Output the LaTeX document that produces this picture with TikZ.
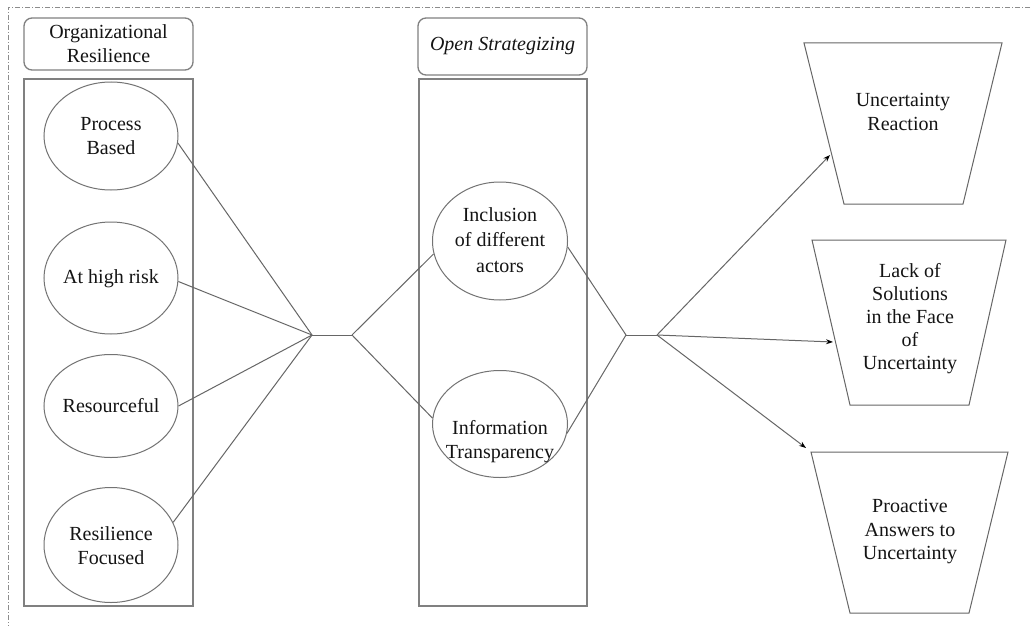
\documentclass[tikz,border=0pt]{standalone}
\usepackage{fontspec}
\setmainfont{Liberation Serif}
\usetikzlibrary{arrows.meta,shapes.geometric}
\begin{document}
\begin{tikzpicture}[x=1pt,y=-1pt,
  outer/.style={draw=black!45, line width=0.8pt, dash pattern=on 5pt off 2pt on 1pt off 2pt},
  frame/.style={draw=black!50, line width=1.3pt, inner sep=0pt},
  hdr/.style={frame, rounded corners=8pt},
  ell/.style={draw=black!55, line width=1pt, ellipse, inner sep=0pt},
  link/.style={draw=black!60, line width=1pt},
  arr/.style={link, -{Stealth[length=7pt,width=5pt,black]}},
  trap/.style={draw=black!60, line width=1pt},
  txt/.style={font=\fontsize{20}{24}\selectfont, align=center, text=black!92, inner sep=0pt},
]
\useasboundingbox (0,0) rectangle (1033,626);
\fill[white] (0,0) rectangle (1033,626);
% outer dash-dot frame (top and left only)
\draw[outer] (1030,7) -- (8,7) -- (8,626);

% left column
\node[hdr, txt, minimum width=169pt, minimum height=52pt] (lh) at (108.5,44) {Organizational\\Resilience};
\node[frame, minimum width=169pt, minimum height=527pt] (lbox) at (108.5,342.5) {};
\node[ell, minimum width=134pt, minimum height=108pt] (pb) at (111,136) {};
\node[txt] at (111,136) {Process\\Based};
\node[ell, minimum width=134pt, minimum height=112pt] (hr) at (111,278) {};
\node[txt] at (111,279) {At high risk};
\node[ell, minimum width=134pt, minimum height=103pt] (rs) at (111,406) {};
\node[txt] at (111,406) {Resourceful};
\node[ell, minimum width=134pt, minimum height=115pt] (rf) at (111,545) {};
\node[txt] at (111,546) {Resilience\\Focused};

% middle column
\node[hdr, txt, minimum width=169pt, minimum height=57pt] (mh) at (502.5,46.5) {\itshape Open Strategizing};
\node[frame, minimum width=168pt, minimum height=527pt] (mbox) at (503,342.5) {};
\node[ell, minimum width=135pt, minimum height=118pt] (inc) at (500,241) {};
\node[txt, font=\fontsize{20}{25.5}\selectfont] at (500,240) {Inclusion\\of different\\actors};
\node[ell, minimum width=135pt, minimum height=107pt] (inf) at (500,424) {};
\node[txt] at (500,442) {Information\\Transparency};

% junctions
\coordinate (j1) at (312,335);
\coordinate (j2) at (352,335);
\coordinate (j3) at (626,335);
\coordinate (j4) at (657,335);

\draw[link] (pb.-6) -- (j1);
\draw[link] (hr.-3) -- (j1);
\draw[link] (rs.east) -- (j1);
\draw[link] (rf.20) -- (j1);
\draw[link] (j1) -- (j2);
\draw[link] (j2) -- (inc.191);
\draw[link] (j2) -- (inf.175);
\draw[link] (inc.-5) -- (j3);
\draw[link] (inf.-8) -- (j3);
\draw[link] (j3) -- (j4);

% right trapezoids
\draw[trap] (804,43) -- (1002,43) -- (963,204) -- (844,204) -- cycle;
\node[txt] (t1) at (903,112) {Uncertainty\\Reaction};
\coordinate (a1) at (830,155);
\draw[trap] (812,240) -- (1006,240) -- (969,405) -- (850,405) -- cycle;
\node[txt, font=\fontsize{20}{23}\selectfont] (t2) at (910,319) {Lack of\\Solutions\\in the Face\\of\\Uncertainty};
\coordinate (a2) at (833,342);
\draw[trap] (811,452) -- (1008,452) -- (969,613) -- (850,613) -- cycle;
\node[txt, font=\fontsize{20}{23.5}\selectfont] (t3) at (910,532) {Proactive\\Answers to\\Uncertainty};
\coordinate (a3) at (806,448);

\draw[arr] (j4) -- (a1);
\draw[arr] (j4) -- (a2);
\draw[arr] (j4) -- (a3);
\end{tikzpicture}
\end{document}
